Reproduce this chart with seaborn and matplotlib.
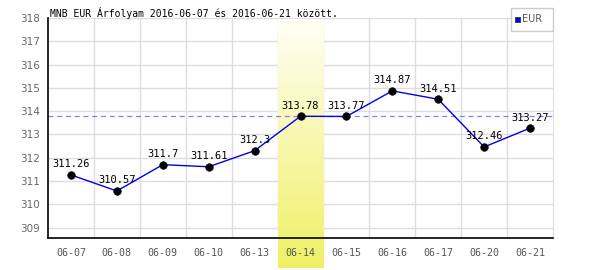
import numpy as np
import pandas as pd
import matplotlib
matplotlib.use("Agg")
import matplotlib.pyplot as plt
import seaborn as sns
from matplotlib.patches import Rectangle

dates = ["06-07", "06-08", "06-09", "06-10", "06-13", "06-14", "06-15", "06-16", "06-17", "06-20", "06-21"]
values = [311.26, 310.57, 311.7, 311.61, 312.3, 313.78, 313.77, 314.87, 314.51, 312.46, 313.27]
yticks = [309, 310, 311, 312, 313, 314, 315, 316, 317, 318]
highlight = "06-14"
ref_value = 313.78
title = "MNB EUR Árfolyam 2016-06-07 és 2016-06-21 között."
series_name = "EUR"

sns.set_style("white")
plt.rcParams['font.family'] = ['DejaVu Sans Mono', 'DejaVu Sans']

df = pd.DataFrame({"pos": np.arange(len(dates)), "value": values, "date": dates})

fig = plt.figure(figsize=(6, 2.7), dpi=100)
ax = fig.add_axes([48/600, 32/270, (553-48)/600, (252-32)/270])
ymin, ymax = 308.55, 318.0
px_per_unit = (252 - 32) / (ymax - ymin)

# grid
for y in yticks:
    ax.axhline(y, color="#dddddd", lw=1, zorder=1)
for x in np.arange(0.5, len(dates) - 0.5, 1):
    ax.axvline(x, color="#dddddd", lw=1, zorder=1)

# highlight gradient band (drawn over the grid, extends below the axis)
hi = dates.index(highlight)
grad = np.linspace(0, 1, 100).reshape(-1, 1)
top = np.array([1.0, 1.0, 0.96])
bot = np.array([0.94, 0.94, 0.40])
img = (top + (bot - top) * grad[..., None]).reshape(100, 1, 3)
ax.imshow(img, extent=[hi - 0.5, hi + 0.5, ymin - 30/px_per_unit, ymax - 2/px_per_unit], aspect='auto',
          origin='upper', clip_on=False, zorder=1.5)
ax.set_xlim(-0.5, len(dates) - 0.5)
ax.set_ylim(ymin, ymax)

ax.axhline(ref_value, color="#8080ff", lw=0.9, ls=(0, (4, 3)), zorder=2)

sns.lineplot(data=df, x="pos", y="value", ax=ax, color="#0000ee", lw=1, zorder=3, legend=False)
sns.scatterplot(data=df, x="pos", y="value", ax=ax, color="black", s=30, edgecolor="black", zorder=4, legend=False)

for x, v in zip(df["pos"], values):
    ax.annotate(f"{v:g}", (x, v), xytext=(0, 4), textcoords="offset points",
                ha="center", va="bottom", fontsize=7.5, color="black", zorder=5)

ax.set_xlim(-0.5, len(dates) - 0.5)
ax.set_ylim(ymin, ymax)
ax.set_xticks(df["pos"])
ax.set_xticklabels(dates, fontsize=7.2, color="#555555")
ax.set_yticks(yticks)
ax.set_yticklabels([str(t) for t in yticks], fontsize=7.5, color="#666666", family="DejaVu Sans")
ax.tick_params(axis='y', length=0, pad=6)
ax.tick_params(axis='x', length=0, pad=7)
ax.xaxis.set_zorder(7)
ax.yaxis.set_zorder(7)
ax.set_xlabel("")
ax.set_ylabel("")
ax.spines["top"].set_visible(False)
ax.spines["right"].set_color("#dddddd")
ax.spines["left"].set_color("black")
ax.spines["bottom"].set_color("black")
ax.spines["left"].set_linewidth(1.2)
ax.spines["bottom"].set_linewidth(1.2)
ax.spines["left"].set_zorder(6)
ax.spines["bottom"].set_zorder(6)

fig.text(50/600, 1 - 13/270, title, fontsize=7, color="black", va="center", ha="left")

# legend box
fig.patches.append(Rectangle((511/600, 1 - 31/270), 42/600, 23/270, transform=fig.transFigure,
                             facecolor="white", edgecolor="#cccccc", lw=1, zorder=10))
fig.patches.append(Rectangle((515/600, 1 - 22/270), 5/600, 5/270, transform=fig.transFigure,
                             facecolor="#0000ee", edgecolor="#333333", lw=0.6, zorder=11))
fig.text(522/600, 1 - 19.5/270, series_name, fontsize=7, color="#555555", va="center", ha="left", zorder=12,
         family="DejaVu Sans")

fig.savefig("out.png", dpi=100)
